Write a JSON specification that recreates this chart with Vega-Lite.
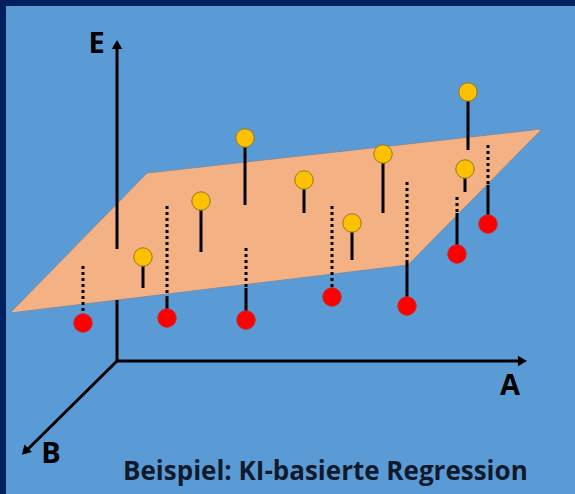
{
  "$schema": "https://vega.github.io/schema/vega-lite/v6.json",
  "width": 575,
  "height": 494,
  "autosize": {"type": "fit", "contains": "padding"},
  "padding": 0,
  "background": "#5b9bd5",
  "config": {"view": {"stroke": null}},
  "datasets": {
    "frame": [
      {"x": 0, "x2": 575, "y": 0, "y2": 6},
      {"x": 0, "x2": 6, "y": 0, "y2": 494}
    ],
    "plane": [
      {"a": 10, "top": 313, "bottom": 313},
      {"a": 147, "top": 173, "bottom": 296.5},
      {"a": 408, "top": 143.9, "bottom": 265},
      {"a": 542, "top": 129, "bottom": 129}
    ],
    "axes": [
      {"axis": "E", "x": 117, "y": 45, "x2": 117, "y2": 249},
      {"axis": "E", "x": 117, "y": 300, "x2": 117, "y2": 361},
      {"axis": "A", "x": 116, "y": 361, "x2": 522, "y2": 361},
      {"axis": "B", "x": 118, "y": 360, "x2": 26, "y2": 451}
    ],
    "heads": [
      {"axis": "E", "x": 117, "y": 44.5, "dir": 0},
      {"axis": "A", "x": 522.5, "y": 361, "dir": 90},
      {"axis": "B", "x": 25, "y": 451.5, "dir": 225}
    ],
    "obs": [
      {"side": "above", "a": 143, "e": 257, "plane": 288},
      {"side": "above", "a": 201, "e": 201, "plane": 252},
      {"side": "above", "a": 245, "e": 138, "plane": 205},
      {"side": "above", "a": 304, "e": 180, "plane": 213},
      {"side": "above", "a": 352, "e": 223, "plane": 260},
      {"side": "above", "a": 383, "e": 154, "plane": 213},
      {"side": "above", "a": 468, "e": 92, "plane": 150},
      {"side": "above", "a": 465, "e": 169, "plane": 192},
      {"side": "below", "a": 83, "e": 323, "plane": 266, "edge": 323},
      {"side": "below", "a": 167, "e": 318, "plane": 206, "edge": 297},
      {"side": "below", "a": 246, "e": 320, "plane": 248, "edge": 288},
      {"side": "below", "a": 332, "e": 297, "plane": 206, "edge": 297},
      {"side": "below", "a": 407, "e": 306, "plane": 182, "edge": 263},
      {"side": "below", "a": 457, "e": 254, "plane": 197, "edge": 213},
      {"side": "below", "a": 488, "e": 224, "plane": 145, "edge": 185}
    ],
    "labels": [
      {"text": "E", "x": 96.5, "y": 53, "kind": "axis"},
      {"text": "A", "x": 510, "y": 395, "kind": "axis"},
      {"text": "B", "x": 51, "y": 463, "kind": "axis"},
      {"text": "Beispiel: KI-basierte Regression", "x": 123, "y": 480, "kind": "title"}
    ]
  },
  "layer": [
    {
      "data": {"name": "frame"},
      "mark": {"type": "rect", "color": "#002060"},
      "encoding": {
        "x": {"field": "x", "type": "quantitative", "scale": {"domain": [0, 575], "nice": false, "zero": false}, "axis": null},
        "x2": {"field": "x2"},
        "y": {"field": "y", "type": "quantitative", "scale": {"domain": [0, 494], "reverse": true, "nice": false, "zero": false}, "axis": null},
        "y2": {"field": "y2"}
      }
    },
    {
      "data": {"name": "plane"},
      "mark": {"type": "area", "fill": "#f4b183", "stroke": "#7c8ea6", "strokeWidth": 1, "fillOpacity": 1},
      "encoding": {
        "x": {"field": "a", "type": "quantitative", "axis": null},
        "y": {"field": "top", "type": "quantitative", "axis": null},
        "y2": {"field": "bottom"}
      }
    },
    {
      "data": {"name": "axes"},
      "mark": {"type": "rule", "color": "#000000", "strokeWidth": 3},
      "encoding": {
        "x": {"field": "x", "type": "quantitative", "axis": null},
        "x2": {"field": "x2"},
        "y": {"field": "y", "type": "quantitative", "axis": null},
        "y2": {"field": "y2"}
      }
    },
    {
      "data": {"name": "heads"},
      "mark": {"type": "point", "shape": "triangle-up", "filled": true, "color": "#000000", "size": 110, "opacity": 1},
      "encoding": {
        "x": {"field": "x", "type": "quantitative", "axis": null},
        "y": {"field": "y", "type": "quantitative", "axis": null},
        "angle": {"field": "dir", "type": "quantitative", "scale": null}
      }
    },
    {
      "data": {"name": "obs"},
      "transform": [{"filter": "datum.side === 'below'"}],
      "mark": {"type": "rule", "color": "#000000", "strokeWidth": 3, "strokeDash": [3, 3]},
      "encoding": {
        "x": {"field": "a", "type": "quantitative", "axis": null},
        "y": {"field": "plane", "type": "quantitative", "axis": null},
        "y2": {"field": "edge"}
      }
    },
    {
      "data": {"name": "obs"},
      "transform": [{"filter": "datum.side === 'below'"}],
      "mark": {"type": "rule", "color": "#000000", "strokeWidth": 3},
      "encoding": {
        "x": {"field": "a", "type": "quantitative", "axis": null},
        "y": {"field": "edge", "type": "quantitative", "axis": null},
        "y2": {"field": "e"}
      }
    },
    {
      "data": {"name": "obs"},
      "transform": [{"filter": "datum.side === 'above'"}],
      "mark": {"type": "rule", "color": "#000000", "strokeWidth": 3},
      "encoding": {
        "x": {"field": "a", "type": "quantitative", "axis": null},
        "y": {"field": "e", "type": "quantitative", "axis": null},
        "y2": {"field": "plane"}
      }
    },
    {
      "data": {"name": "obs"},
      "mark": {"type": "circle", "size": 340, "opacity": 1, "strokeWidth": 1},
      "encoding": {
        "x": {"field": "a", "type": "quantitative", "axis": null},
        "y": {"field": "e", "type": "quantitative", "axis": null},
        "fill": {"field": "side", "type": "nominal", "scale": {"domain": ["above", "below"], "range": ["#ffc000", "#ff0000"]}, "legend": null},
        "stroke": {"field": "side", "type": "nominal", "scale": {"domain": ["above", "below"], "range": ["#8c7a22", "#d42020"]}, "legend": null}
      }
    },
    {
      "data": {"name": "labels"},
      "transform": [{"filter": "datum.kind === 'axis'"}],
      "mark": {"type": "text", "font": "Open Sans", "fontWeight": "bold", "fontSize": 29, "align": "center", "baseline": "alphabetic", "color": "#000000"},
      "encoding": {
        "x": {"field": "x", "type": "quantitative", "axis": null},
        "y": {"field": "y", "type": "quantitative", "axis": null},
        "text": {"field": "text"}
      }
    },
    {
      "data": {"name": "labels"},
      "transform": [{"filter": "datum.kind === 'title'"}],
      "mark": {"type": "text", "font": "Open Sans", "fontWeight": "bold", "fontSize": 26, "letterSpacing": 0.45, "align": "left", "baseline": "alphabetic", "color": "#101a2c"},
      "encoding": {
        "x": {"field": "x", "type": "quantitative", "axis": null},
        "y": {"field": "y", "type": "quantitative", "axis": null},
        "text": {"field": "text"}
      }
    }
  ]
}
